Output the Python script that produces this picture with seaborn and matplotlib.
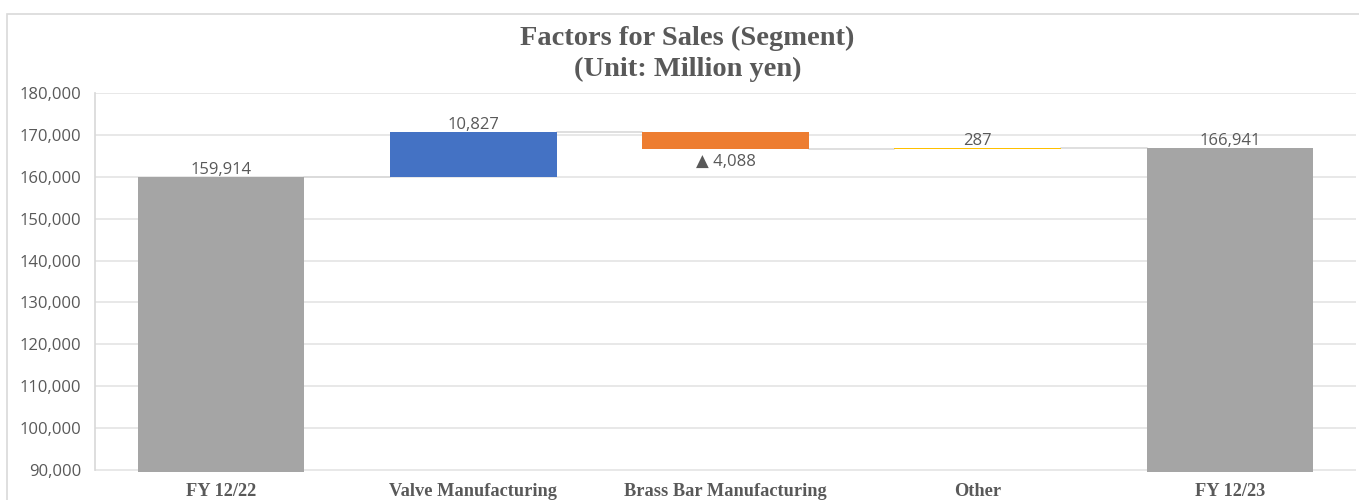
import matplotlib
matplotlib.use("Agg")
import matplotlib.pyplot as plt
import seaborn as sns
import numpy as np
from matplotlib.patches import Rectangle

categories = ["FY 12/22", "Valve Manufacturing", "Brass Bar Manufacturing", "Other", "FY 12/23"]
changes = [159914, 10827, -4088, 287, 166941]
kinds = ["total", "delta", "delta", "delta", "total"]
labels = ["159,914", "10,827", "▲ 4,088", "287", "166,941"]
bar_colors = ["#A5A5A5", "#4472C4", "#ED7D31", "#FFC000", "#A5A5A5"]
yticks = [90000, 100000, 110000, 120000, 130000, 140000, 150000, 160000, 170000, 180000]

sns.set_theme(style="white")
plt.rcParams["font.family"] = ["Open Sans", "DejaVu Sans"]

fig = plt.figure(figsize=(13.59, 5.0), dpi=100)
ax = fig.add_axes([95/1359, 1 - 472/500, (1356 - 95)/1359, (472 - 93)/500])

# compute floating bases
bases, heights, tops = [], [], []
running = 0
for k, v in zip(kinds, changes):
    if k == "total":
        bases.append(0); heights.append(v); running = v
        tops.append(v)
    else:
        if v >= 0:
            bases.append(running); heights.append(v)
        else:
            bases.append(running + v); heights.append(-v)
        running += v
        tops.append(running)

for i, cat in enumerate(categories):
    sns.barplot(x=[cat], y=[heights[i]], order=categories, bottom=bases[i],
                color=bar_colors[i], width=0.66, errorbar=None, ax=ax,
                saturation=1, zorder=3, linewidth=0)

# connector lines
hw = 0.33
for i in range(len(categories) - 1):
    ax.plot([i + hw, i + 1 - hw], [tops[i], tops[i]], color="#D9D9D9", lw=1.2, zorder=2)

ax.set_ylim(89500, 180000)
ax.set_xlim(-0.5, 4.5)
ax.set_yticks(yticks)
ax.set_yticklabels([f"{t:,}" for t in yticks])
ax.tick_params(axis="y", labelsize=12, colors="#595959", length=0, pad=10)
ax.tick_params(axis="x", length=0, pad=8)
ax.set_xticks(range(len(categories)))
ax.set_xticklabels(categories, family=["Liberation Serif"], fontweight="bold",
                   fontsize=13.2, color="#595959")
ax.set_xlabel("")
ax.set_ylabel("")
ax.grid(axis="y", color="#E4E4E4", lw=1.2, zorder=0)
ax.set_axisbelow(True)
for s in ["top", "right", "bottom"]:
    ax.spines[s].set_visible(False)
ax.spines["left"].set_color("#D9D9D9")
ax.spines["left"].set_bounds(90000, 180000)

# value labels
for i in range(len(categories)):
    top = bases[i] + heights[i]
    if changes[i] < 0:
        ax.text(i, bases[i] - 1200, labels[i], ha="center", va="top", fontsize=12,
                color="#595959", family=["Open Sans", "DejaVu Sans"])
    else:
        ax.text(i, top - 200, labels[i], ha="center", va="bottom", fontsize=12,
                color="#595959")

fig.text(0.506, 0.923, "Factors for Sales (Segment)", ha="center", va="center",
         family=["Liberation Serif"], fontweight="bold", fontsize=20.5, color="#595959")
fig.text(0.506, 0.862, "(Unit: Million yen)", ha="center", va="center",
         family=["Liberation Serif"], fontweight="bold", fontsize=20.5, color="#595959")

fig.patches.append(Rectangle((7/1359, -0.01), 1.0, 1 - 14/500 + 0.01, transform=fig.transFigure,
                             fill=False, edgecolor="#D9D9D9", lw=1.2))

fig.savefig("out.png", dpi=100)
